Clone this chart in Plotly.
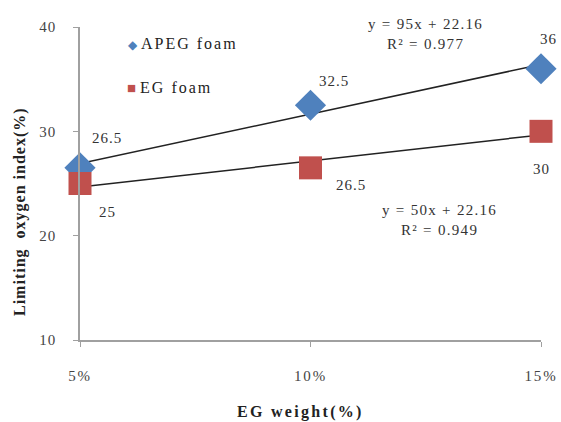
import plotly.graph_objects as go

x_vals = [0.05, 0.10, 0.15]
x_labels = ["5%", "10%", "15%"]
y_ticks = [10, 20, 30, 40]
apeg_loi = [26.5, 32.5, 36]
eg_loi = [25, 26.5, 30]
apeg_fit = [95, 22.16]   # slope, intercept
eg_fit = [50, 22.16]
apeg_eq = ["y = 95x + 22.16", "R² = 0.977"]
eg_eq = ["y = 50x + 22.16", "R² = 0.949"]
series_names = ["APEG foam", "EG foam"]

FONT = "Liberation Serif, Times New Roman, serif"
BLUE = "#4F81BD"
RED = "#C0504D"
TXT = "#333333"
PW, PH, PL, PB = 461, 313, 80, 340   # plot box in pixels


def sp(s, ls=1.5):
    return f"<span style='letter-spacing:{ls}px'>{s}</span>"


def px(xp, yp):
    return (xp - PL) / PW, (PB - yp) / PH


fig = go.Figure()

for fit in (apeg_fit, eg_fit):
    fig.add_trace(go.Scatter(
        x=[x_vals[0], x_vals[-1]],
        y=[fit[0] * x_vals[0] + fit[1], fit[0] * x_vals[-1] + fit[1]],
        mode="lines", line=dict(color="#222222", width=1.5),
        showlegend=False, hoverinfo="skip", cliponaxis=False))

fig.add_trace(go.Scatter(
    x=x_vals, y=apeg_loi, mode="markers", name=series_names[0],
    marker=dict(symbol="diamond", size=24, color=BLUE),
    showlegend=False, cliponaxis=False))

fig.add_trace(go.Scatter(
    x=x_vals, y=eg_loi, mode="markers", name=series_names[1],
    marker=dict(symbol="square", size=23, color=RED),
    showlegend=False, cliponaxis=False))

annotations = []
# data labels
apeg_off = [(27, -30), (23, -24), (7, -30)]
eg_off = [(27, 28), (40, 17), (0, 38)]
for vals, offs in ((apeg_loi, apeg_off), (eg_loi, eg_off)):
    for xv, yv, (dx, dy) in zip(x_vals, vals, offs):
        annotations.append(dict(
            x=xv, y=yv, xref="x", yref="y", text=sp(str(yv), 1),
            xanchor="center", yanchor="middle",
            showarrow=False, xshift=dx, yshift=-dy,
            font=dict(family=FONT, size=15, color=TXT)))


def ann(xp, yp, text, size=15, color=TXT, **kw):
    xx, yy = px(xp, yp)
    d = dict(x=xx, y=yy, xref="paper", yref="paper", text=text,
             xanchor="center", yanchor="middle", showarrow=False,
             font=dict(family=FONT, size=size, color=color))
    d.update(kw)
    return d


# trendline equations
annotations += [
    ann(425, 34, sp(apeg_eq[0], 1.3) + "<br>" + sp(apeg_eq[1], 1.3)),
    ann(439, 220, sp(eg_eq[0], 1.3) + "<br>" + sp(eg_eq[1], 1.3)),
]

# legend
annotations += [
    ann(126, 43, f"<span style='color:{BLUE};font-size:12px'>◆</span> " + sp(series_names[0], 2),
        size=16, color="#222222", xanchor="left"),
    ann(125, 87, f"<span style='color:{RED};font-size:15px'>■</span> " + sp(series_names[1], 2),
        size=16, color="#222222", xanchor="left"),
]

# axis titles
annotations += [
    ann(300, 412, "<b>" + sp("EG weight(%)", 2.3) + "</b>", size=16, color="#222222"),
    ann(20, 212, "<b>" + sp("Limiting  oxygen index(%)", 1.0) + "</b>", size=16,
        color="#222222", textangle=-90),
]

fig.update_layout(
    width=561, height=422,
    margin=dict(l=80, r=20, t=27, b=82),
    plot_bgcolor="white", paper_bgcolor="white",
    font=dict(family=FONT, size=15, color=TXT),
    annotations=annotations,
    showlegend=False,
    xaxis=dict(range=[0.05, 0.15], tickvals=x_vals,
               ticktext=[sp(t, 1.8) for t in x_labels],
               automargin=False,
               showgrid=False, zeroline=False, showline=True,
               linecolor="#A0A0A0", linewidth=1.5, ticks="outside",
               ticklen=5, tickcolor="#A0A0A0", ticklabelstandoff=16,
               tickfont=dict(family=FONT, size=15, color="#444444")),
    yaxis=dict(range=[10, 40], tickvals=y_ticks,
               ticktext=[sp(str(t), 1) for t in y_ticks],
               automargin=False,
               showgrid=False, zeroline=False, showline=True,
               linecolor="#A0A0A0", linewidth=1.5, ticks="outside",
               ticklen=5, tickcolor="#A0A0A0", ticklabelstandoff=14,
               tickfont=dict(family=FONT, size=15, color="#444444")),
)

fig.write_html("out.html")
